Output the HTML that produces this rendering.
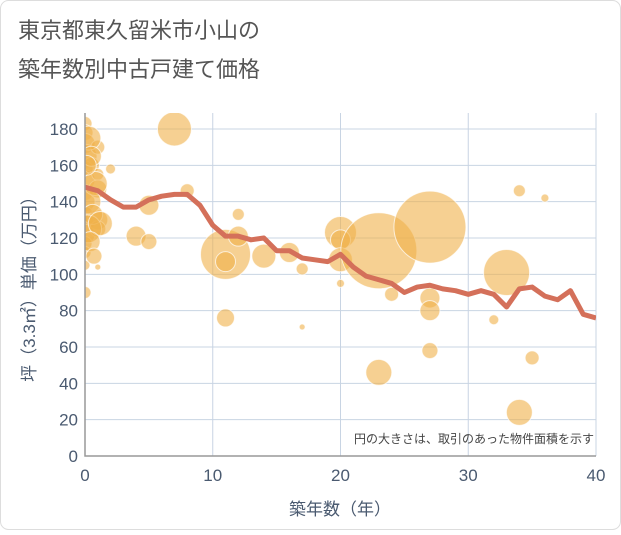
<!DOCTYPE html>
<html><head><meta charset="utf-8"><style>
body{margin:0;background:#fff;font-family:"Liberation Sans","Noto Sans CJK JP",sans-serif;}
</style></head><body>
<svg width="621" height="530" xmlns="http://www.w3.org/2000/svg" font-family="Liberation Sans, Noto Sans CJK JP, sans-serif">
<rect x="0.5" y="0.5" width="620" height="529" rx="8" fill="#fff" stroke="#ddd"/>
<text x="18" y="38" font-size="22" fill="#555">東京都東久留米市小山の</text>
<text x="18" y="77" font-size="22" fill="#555">築年数別中古戸建て価格</text>
<g id="grid"></g>
<defs><clipPath id="clip"><rect x="85" y="113" width="511" height="343"/></clipPath></defs>
<g id="bubbles" clip-path="url(#clip)"></g>
<g id="line" clip-path="url(#clip)"></g>
<g id="axes"></g>
<text x="340" y="515" font-size="17" fill="#4a5a70" text-anchor="middle">築年数（年）</text>
<text transform="translate(35,285) rotate(-90)" font-size="17" fill="#4a5a70" text-anchor="middle">坪（3.3㎡）単価（万円）</text>
<text x="594" y="443" font-size="12" fill="#444" text-anchor="end">円の大きさは、取引のあった物件面積を示す</text>
</svg>
<script>
const xTicks=[0,10,20,30,40];
const yTicks=[0,20,40,60,80,100,120,140,160,180];
const lineYears=[0,1,2,3,4,5,6,7,8,9,10,11,12,13,14,15,16,17,18,19,20,21,22,23,24,25,26,27,28,29,30,31,32,33,34,35,36,37,38,39,40];
const lineValues=[148,146,141,137,137,141,143,144,144,138,127,121,121,119,120,113,113,109,108,107,111,104,99,97,95,90,93,94,92,91,89,91,89,82,92,93,88,86,91,78,76];
const bubbleX=[0,0,0,0,0,0,0,0,0,0,0,0,0,0,0,0.5,1,1,1,1,1,2,1,4,5,5,7,8,11,11,11,12,12,14,16,17,17,20,20,20,20,23,23,24,27,27,27,27,32,33,34,34,35,36,0.3,0.5,0.8,0.3,0.6,0.2,1.2,0.4,0.1,0.7];
const bubbleY=[183,178,172,165,158,152,145,140,133,128,122,117,112,105,90,160,170,155,147,130,125,158,104,121,118,138,180,146,111,107,76,133,121,110,112,103,71,123,119,108,95,113,46,89,126,87,80,58,75,101,146,24,54,142,175,165,150,140,133,125,128,118,160,110];
const bubbleR=[7,8,10,12,8,10,8,10,8,9,10,7,6,5,6,8,7,6,9,10,8,5,3,10,8,10,17,7,25,10,9,6,10,12,10,6,3,16,10,12,4,38,13,7,36,10,10,8,5,23,6,13,7,4,12,10,12,12,10,14,12,10,10,8];
const NS="http://www.w3.org/2000/svg";
const X=v=>85+v*12.775, Y=v=>456-v*1.8167;
function mk(t,a,p){const e=document.createElementNS(NS,t);for(const k in a)e.setAttribute(k,a[k]);p.appendChild(e);return e;}
const grid=document.getElementById('grid'),axes=document.getElementById('axes');
yTicks.forEach(v=>{
 const l=mk('line',{x1:85,x2:596,y1:Y(v),y2:Y(v),stroke:'#c8d4e3','stroke-width':1},grid);
 
 
 const t=mk('text',{x:78,y:Y(v)+6,'font-size':17,fill:'#4a5a70','text-anchor':'end'},axes);t.textContent=v;
 
 
});
xTicks.forEach(v=>{
 const l=mk('line',{x1:X(v),x2:X(v),y1:113,y2:456,stroke:'#c8d4e3','stroke-width':1},grid);
 
 
 const t=mk('text',{x:X(v),y:481,'font-size':17,fill:'#4a5a70','text-anchor':'middle'},axes);t.textContent=v;
 
 
});
const ax=mk('path',{d:'M85 113V456H596',fill:'none',stroke:'#999','stroke-width':1.5},axes);


const bg=document.getElementById('bubbles');
bubbleX.forEach((x,i)=>{
 const c=mk('circle',{cx:X(x),cy:Y(bubbleY[i]),r:bubbleR[i],fill:'#f0b04a','fill-opacity':0.6,stroke:'#fff','stroke-opacity':0.7,'stroke-width':1},bg);
 
 
});
const p=mk('polyline',{points:lineYears.map((x,i)=>X(x)+','+Y(lineValues[i])).join(' '),fill:'none',stroke:'#d4705a','stroke-width':5,'stroke-linejoin':'round'},document.getElementById('line'));


</script>
</body></html>
